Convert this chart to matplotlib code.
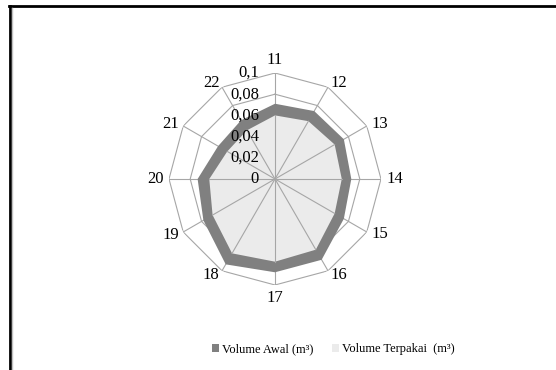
import numpy as np
import matplotlib.pyplot as plt
from matplotlib.patches import Patch
from matplotlib.lines import Line2D

# data
categories = ['11', '12', '13', '14', '15', '16', '17', '18', '19', '20', '21', '22']
volume_awal = [0.071, 0.074, 0.075, 0.072, 0.075, 0.088, 0.088, 0.093, 0.078, 0.073, 0.062, 0.064]
volume_terpakai = [0.060, 0.063, 0.065, 0.063, 0.065, 0.077, 0.078, 0.081, 0.068, 0.062, 0.052, 0.053]
ring_values = [0.02, 0.04, 0.06, 0.08, 0.1]
ring_labels = ['0', '0,02', '0,04', '0,06', '0,08', '0,1']

plt.rcParams['font.family'] = ['Liberation Serif', 'DejaVu Serif']

fig = plt.figure(figsize=(5.56, 3.70), dpi=100)
R = 106  # pixel radius of the 0.1 ring
cx, cy = 275, 179
ax = fig.add_axes([(cx - R) / 556, (370 - cy - R) / 370, 2 * R / 556, 2 * R / 370],
                  projection='polar')
ax.set_theta_zero_location('N')
ax.set_theta_direction(-1)
ax.set_ylim(0, 0.1)
ax.grid(False)
ax.spines['polar'].set_visible(False)
ax.set_xticks([])
ax.set_yticks([])
ax.patch.set_alpha(0)

n = len(categories)
theta = np.linspace(0, 2 * np.pi, n, endpoint=False)
theta_c = np.append(theta, theta[0])

grid_col = '#a6a6a6'
# polygon rings
for r in ring_values:
    ax.plot(theta_c, [r] * (n + 1), color=grid_col, lw=0.8, zorder=1)
# spokes
for t in theta:
    ax.plot([t, t], [0, ring_values[-1]], color=grid_col, lw=0.8, zorder=1)

awal_c = volume_awal + volume_awal[:1]
terpakai_c = volume_terpakai + volume_terpakai[:1]
ax.fill(theta_c, awal_c, color='#808080', lw=0, zorder=2)
ax.fill(theta_c, terpakai_c, color='#ebebeb', lw=0, zorder=3)
# spokes stay visible inside the light area
for t, v in zip(theta, volume_terpakai):
    ax.plot([t, t], [0, v], color=grid_col, lw=0.8, zorder=4)

# category labels, placed just outside the outer ring like Excel does
gap = 5
for t, lab in zip(theta, categories):
    s, c = np.sin(t), np.cos(t)
    ha = 'left' if s > 0.1 else ('right' if s < -0.1 else 'center')
    va = 'bottom' if c > 0.99 else ('top' if c < -0.99 else 'center')
    ax.annotate(lab, xy=(t, ring_values[-1]), xytext=(s * gap, c * gap),
                textcoords='offset pixels', ha=ha, va=va, fontsize=12)

# value labels along the first axis
for r, lab in zip([0] + ring_values, ring_labels):
    ax.annotate(lab, xy=(0, r), xytext=(-16, 0), textcoords='offset pixels',
                ha='right', va='center', fontsize=12, zorder=5)

handles = [Patch(facecolor='#808080', edgecolor='none', label='Volume Awal (m\u00b3)'),
           Patch(facecolor='#ebebeb', edgecolor='none', label='Volume Terpakai  (m\u00b3)')]
fig.legend(handles=handles, loc='center', bbox_to_anchor=(333 / 556, 1 - 349 / 370),
           ncol=2, frameon=False, fontsize=9, handlelength=0.6, handleheight=0.6,
           handletextpad=0.2, columnspacing=1.5)

# border of the chart area (cropped on the right and bottom)
fig.add_artist(Line2D([9 / 556, 1], [1 - 6 / 370, 1 - 6 / 370], color='black', lw=2))
fig.add_artist(Line2D([10 / 556, 10 / 556], [0, 1 - 6 / 370], color='black', lw=2))
fig.add_artist(Line2D([12 / 556, 12 / 556], [0, 1 - 8 / 370], color='#c0c0c0', lw=1))

fig.savefig('out.png', dpi=100)
